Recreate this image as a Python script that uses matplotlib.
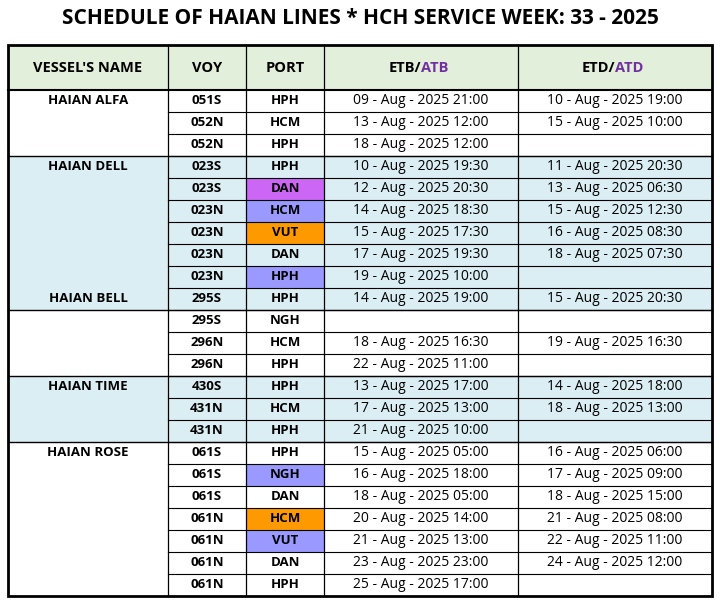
import matplotlib
matplotlib.use("Agg")
import matplotlib.pyplot as plt
from matplotlib.patches import Rectangle

title = "SCHEDULE OF HAIAN LINES * HCH SERVICE WEEK: 33 - 2025"
headers = ["VESSEL'S NAME", "VOY", "PORT", "ETB/ATB", "ETD/ATD"]

vessels = ["HAIAN ALFA", "", "", "HAIAN DELL", "", "", "", "", "", "HAIAN BELL",
           "", "", "", "HAIAN TIME", "", "", "HAIAN ROSE", "", "", "", "", "", ""]
voys = ["051S", "052N", "052N", "023S", "023S", "023N", "023N", "023N", "023N", "295S",
        "295S", "296N", "296N", "430S", "431N", "431N",
        "061S", "061S", "061S", "061N", "061N", "061N", "061N"]
ports = ["HPH", "HCM", "HPH", "HPH", "DAN", "HCM", "VUT", "DAN", "HPH", "HPH",
         "NGH", "HCM", "HPH", "HPH", "HCM", "HPH",
         "HPH", "NGH", "DAN", "HCM", "VUT", "DAN", "HPH"]
etb = ["09 - Aug - 2025 21:00", "13 - Aug - 2025 12:00", "18 - Aug - 2025 12:00",
       "10 - Aug - 2025 19:30", "12 - Aug - 2025 20:30", "14 - Aug - 2025 18:30",
       "15 - Aug - 2025 17:30", "17 - Aug - 2025 19:30", "19 - Aug - 2025 10:00",
       "14 - Aug - 2025 19:00", "", "18 - Aug - 2025 16:30", "22 - Aug - 2025 11:00",
       "13 - Aug - 2025 17:00", "17 - Aug - 2025 13:00", "21 - Aug - 2025 10:00",
       "15 - Aug - 2025 05:00", "16 - Aug - 2025 18:00", "18 - Aug - 2025 05:00",
       "20 - Aug - 2025 14:00", "21 - Aug - 2025 13:00", "23 - Aug - 2025 23:00",
       "25 - Aug - 2025 17:00"]
etd = ["10 - Aug - 2025 19:00", "15 - Aug - 2025 10:00", "",
       "11 - Aug - 2025 20:30", "13 - Aug - 2025 06:30", "15 - Aug - 2025 12:30",
       "16 - Aug - 2025 08:30", "18 - Aug - 2025 07:30", "",
       "15 - Aug - 2025 20:30", "", "19 - Aug - 2025 16:30", "",
       "14 - Aug - 2025 18:00", "18 - Aug - 2025 13:00", "",
       "16 - Aug - 2025 06:00", "17 - Aug - 2025 09:00", "18 - Aug - 2025 15:00",
       "21 - Aug - 2025 08:00", "22 - Aug - 2025 11:00", "24 - Aug - 2025 12:00", ""]
# port highlight colours (row index -> colour)
port_fill = {4: "#CC66F5", 5: "#9999FF", 6: "#FF9900", 8: "#9999FF",
             17: "#9999FF", 19: "#FF9900", 20: "#9999FF"}
# vessel groups (start, end) and whether shaded
groups = [(0, 3, False), (3, 10, True), (10, 13, False), (13, 16, True), (16, 23, False)]

col_x = [8, 168, 246, 324, 518, 712]
top, head_h, row_h = 45, 45, 22
font = "Open Sans"

fig = plt.figure(figsize=(7.2, 6.03), dpi=100)
ax = fig.add_axes([0, 0, 1, 1])
ax.set_xlim(0, 720)
ax.set_ylim(603, 0)
ax.axis("off")

ax.text(360, 19, title, ha="center", va="center", fontsize=15,
        fontweight="bold", family=font)

# header
ax.add_patch(Rectangle((col_x[0], top), col_x[-1] - col_x[0], head_h, fc="#E2EFDA", ec="none"))
hy = top + head_h / 2
for i, h in enumerate(headers[:3]):
    ax.text((col_x[i] + col_x[i + 1]) / 2, hy, h, ha="center", va="center",
            fontsize=10.5, fontweight="bold", family=font)
for i, h in ((3, "ETB"), (4, "ETD")):
    cx = (col_x[i] + col_x[i + 1]) / 2
    ax.text(cx, hy, h + "/", ha="right", va="center", fontsize=10.5,
            fontweight="bold", family=font)
    ax.text(cx, hy, "A" + h[1:], ha="left", va="center", fontsize=10.5,
            fontweight="bold", family=font, color="#7030A0")

y0 = top + head_h
for s, e, shaded in groups:
    if shaded:
        ax.add_patch(Rectangle((col_x[0], y0 + s * row_h), col_x[-1] - col_x[0],
                               (e - s) * row_h, fc="#DAEEF3", ec="none"))

for r in range(len(voys)):
    yc = y0 + r * row_h + row_h / 2
    if r in port_fill:
        ax.add_patch(Rectangle((col_x[2], y0 + r * row_h), col_x[3] - col_x[2], row_h,
                               fc=port_fill[r], ec="none"))
    if vessels[r]:
        ax.text((col_x[0] + col_x[1]) / 2, yc, vessels[r], ha="center", va="center",
                fontsize=9.5, fontweight="bold", family=font)
    ax.text((col_x[1] + col_x[2]) / 2, yc, voys[r], ha="center", va="center",
            fontsize=9.5, fontweight="bold", family=font)
    ax.text((col_x[2] + col_x[3]) / 2, yc, ports[r], ha="center", va="center",
            fontsize=9.5, fontweight="bold", family=font)
    ax.text((col_x[3] + col_x[4]) / 2, yc, etb[r], ha="center", va="center",
            fontsize=10, family=font)
    ax.text((col_x[4] + col_x[5]) / 2, yc, etd[r], ha="center", va="center",
            fontsize=10, family=font)

bottom = y0 + len(voys) * row_h
# inner row lines (not across vessel column)
for r in range(1, len(voys)):
    ax.plot([col_x[1], col_x[-1]], [y0 + r * row_h] * 2, color="black", lw=0.8)
# group lines across the whole width
for s, e, _ in groups[1:]:
    ax.plot([col_x[0], col_x[-1]], [y0 + s * row_h] * 2, color="black", lw=1.0)
ax.plot([col_x[0], col_x[-1]], [y0, y0], color="black", lw=1.5)
for x in col_x[1:-1]:
    ax.plot([x, x], [top, bottom], color="black", lw=0.9)
ax.add_patch(Rectangle((col_x[0], top), col_x[-1] - col_x[0], bottom - top,
                       fc="none", ec="black", lw=2))

fig.savefig("out.png", dpi=100)
